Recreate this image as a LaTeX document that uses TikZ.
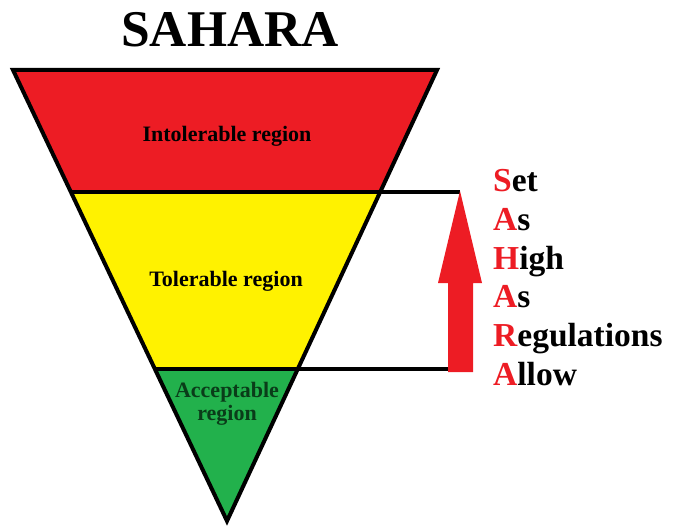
\documentclass[tikz,border=0pt]{standalone}
\usepackage{fontspec}
\setmainfont{Liberation Serif}
\definecolor{pred}{RGB}{237,28,36}
\definecolor{pyellow}{RGB}{255,242,0}
\definecolor{pgreen}{RGB}{34,177,76}
\definecolor{dgreen}{RGB}{10,60,25}
\tikzset{
  region/.style={draw=none},
  outline/.style={draw=black,line width=4pt,line join=miter},
  level/.style={draw=black,line width=4pt},
  lbl/.style={anchor=base,inner sep=0pt,font=\bfseries\fontsize{22}{24}\selectfont},
  acr/.style={anchor=base west,inner sep=0pt,font=\bfseries\fontsize{33.5}{38}\selectfont},
}
\newcommand{\fl}[2]{\textcolor{pred}{#1}#2}
\begin{document}
\begin{tikzpicture}[x=1pt,y=-1pt]
\useasboundingbox (0,0) rectangle (684,529);
% corners
\coordinate (tl) at (13,70);
\coordinate (tr) at (437,70);
\coordinate (l1) at (70.6,192);
\coordinate (r1) at (380,192);
\coordinate (l2) at (154,369);
\coordinate (r2) at (298.4,369);
\coordinate (ap) at (227,521);
% fills
\fill[pred] (tl) -- (tr) -- (r1) -- (l1) -- cycle;
\fill[pyellow] (l1) -- (r1) -- (r2) -- (l2) -- cycle;
\fill[pgreen] (l2) -- (r2) -- (ap) -- cycle;
% level lines
\coordinate (e1) at (460,192);
\coordinate (e2) at (450,369);
\draw[level] (l1) -- (e1);
\draw[level] (l2) -- (e2);
% outline
\draw[outline] (tl) -- (tr) -- (ap) -- cycle;
% arrow
\fill[pred] (448,372) -- (473,372) -- (473,283) -- (482,283) -- (460,191) -- (438,283) -- (448,283) -- cycle;
% texts
\node[anchor=base,inner sep=0pt,font=\bfseries\fontsize{51.5}{56}\selectfont] (title) at (230,47) {SAHARA};
\node[lbl] (intol) at (227,142) {Intolerable region};
\node[lbl] (tol) at (226,286) {Tolerable region};
\node[lbl,text=dgreen] (acc1) at (227,397) {Acceptable};
\node[lbl,text=dgreen] (acc2) at (227,420) {region};
\node[acr] (s1) at (493,192) {\fl{S}{et}};
\node[acr] (s2) at (493,230.6) {\fl{A}{s}};
\node[acr] (s3) at (493,269.2) {\fl{H}{igh}};
\node[acr] (s4) at (493,307.8) {\fl{A}{s}};
\node[acr] (s5) at (493,346.4) {\fl{R}{egulations}};
\node[acr] (s6) at (493,385) {\fl{A}{llow}};
\end{tikzpicture}
\end{document}
